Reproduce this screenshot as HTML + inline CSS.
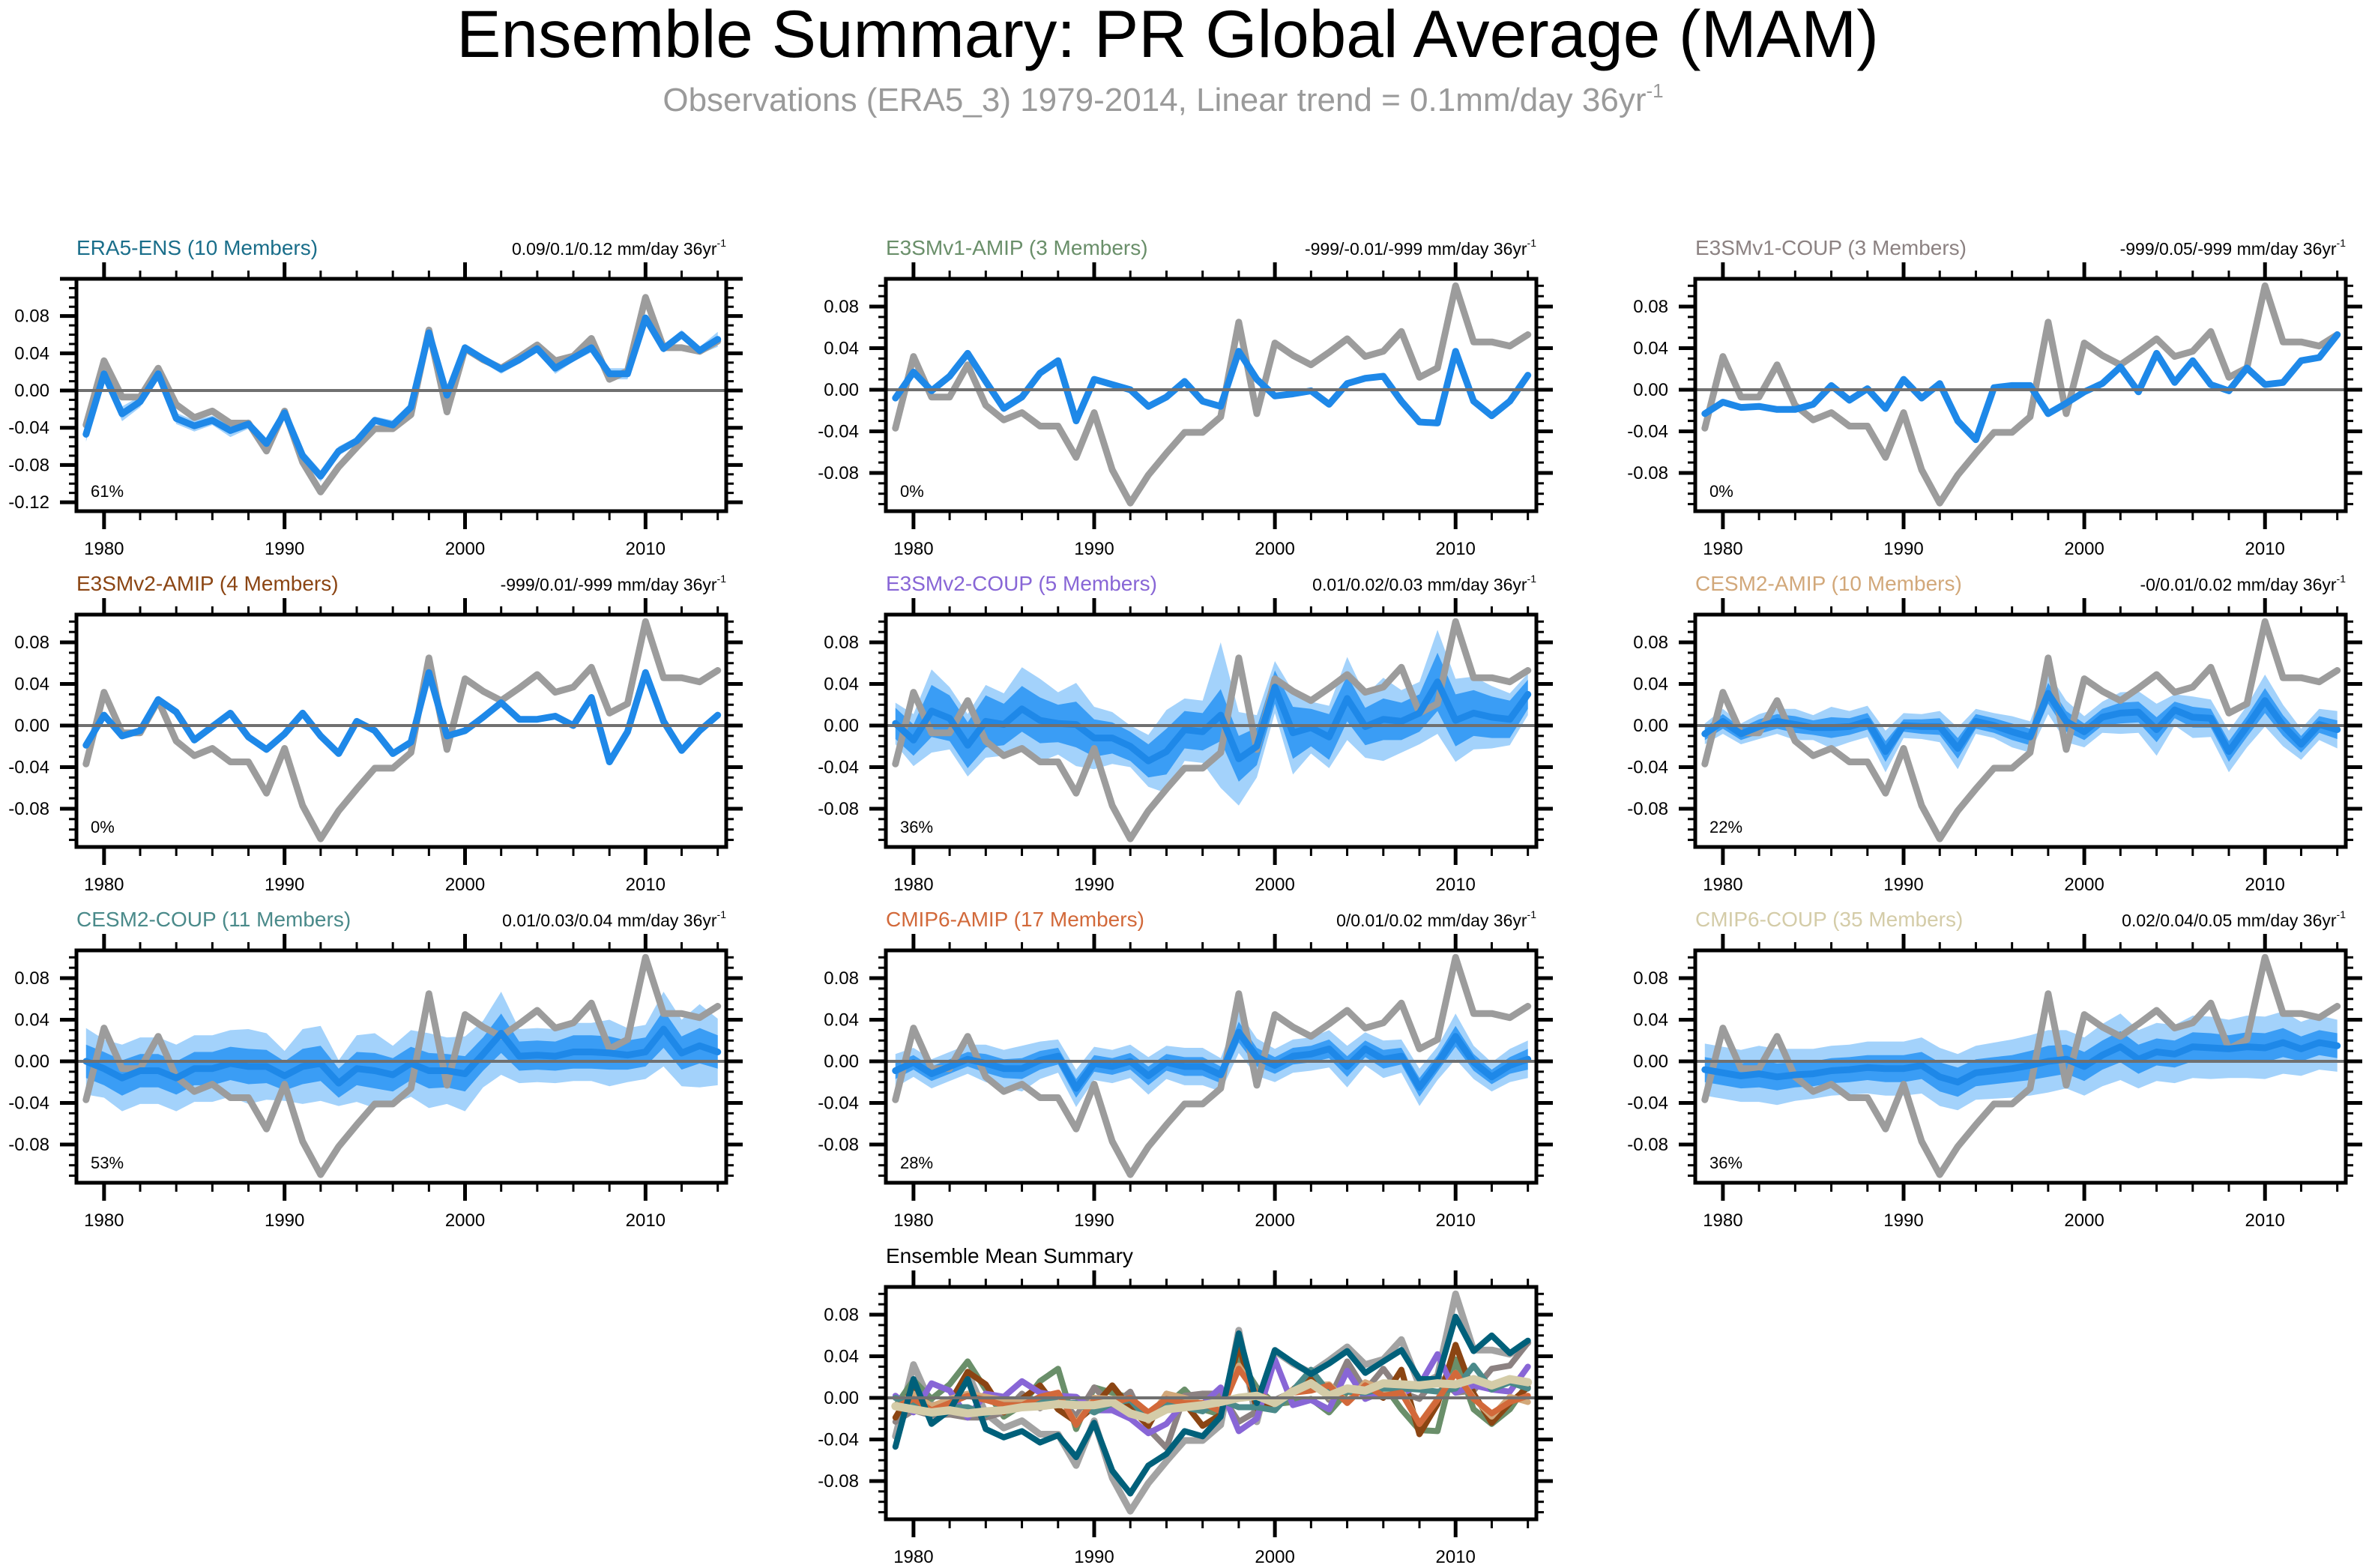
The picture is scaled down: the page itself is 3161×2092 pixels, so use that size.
<!DOCTYPE html>
<html><head><meta charset="utf-8"><title>Ensemble Summary: PR Global Average (MAM)</title>
<style>
html,body{margin:0;padding:0;background:#fff;}
svg{display:block;font-family:"Liberation Sans",Arial,sans-serif;}
</style></head>
<body>
<svg id="chart" xmlns="http://www.w3.org/2000/svg" width="3161" height="2092" viewBox="0 0 3161 2092">
<rect x="0" y="0" width="3161" height="2092" fill="#fff"/>
<text x="1558" y="76" font-size="89" text-anchor="middle" fill="#000">Ensemble Summary: PR Global Average (MAM)</text>
<text x="1552" y="148" font-size="44" text-anchor="middle" fill="#9a9a9a">Observations (ERA5_3) 1979-2014, Linear trend = 0.1mm/day 36yr<tspan font-size="26" dy="-18">-1</tspan></text>
<g id="panels"></g>
</svg>
<script>
const years=[1979,1980,1981,1982,1983,1984,1985,1986,1987,1988,1989,1990,1991,1992,1993,1994,1995,1996,1997,1998,1999,2000,2001,2002,2003,2004,2005,2006,2007,2008,2009,2010,2011,2012,2013,2014];
const obs=[-0.037,0.032,-0.007,-0.007,0.024,-0.015,-0.029,-0.022,-0.035,-0.035,-0.065,-0.022,-0.077,-0.109,-0.082,-0.061,-0.041,-0.041,-0.026,0.065,-0.023,0.045,0.033,0.024,0.036,0.049,0.032,0.037,0.056,0.012,0.021,0.100,0.046,0.046,0.042,0.053];
const meanERA5=[-0.047,0.018,-0.025,-0.012,0.018,-0.030,-0.038,-0.032,-0.043,-0.036,-0.057,-0.024,-0.070,-0.092,-0.065,-0.054,-0.032,-0.037,-0.018,0.062,-0.005,0.046,0.034,0.023,0.033,0.045,0.024,0.035,0.046,0.018,0.018,0.078,0.045,0.060,0.043,0.055];
const outerERA5=[0.008,0.005,0.008,0.006,0.005,0.006,0.006,0.005,0.007,0.005,0.006,0.004,0.006,0.006,0.005,0.004,0.004,0.005,0.004,0.004,0.004,0.004,0.004,0.005,0.004,0.004,0.006,0.004,0.005,0.006,0.006,0.004,0.004,0.005,0.004,0.008];
const meanE3v1A=[-0.008,0.017,-0.001,0.013,0.035,0.008,-0.018,-0.007,0.016,0.028,-0.030,0.010,0.005,0.000,-0.016,-0.007,0.008,-0.011,-0.016,0.037,0.010,-0.006,-0.004,-0.001,-0.014,0.006,0.011,0.013,-0.011,-0.031,-0.032,0.037,-0.011,-0.025,-0.011,0.014];
const meanE3v1C=[-0.023,-0.012,-0.017,-0.016,-0.019,-0.019,-0.014,0.004,-0.010,0.001,-0.018,0.010,-0.008,0.006,-0.030,-0.048,0.002,0.004,0.004,-0.023,-0.013,-0.002,0.006,0.022,-0.002,0.035,0.007,0.028,0.005,-0.001,0.021,0.005,0.007,0.028,0.031,0.053];
const meanE3v2A=[-0.019,0.010,-0.010,-0.005,0.025,0.013,-0.014,-0.001,0.012,-0.011,-0.023,-0.008,0.012,-0.010,-0.027,0.004,-0.005,-0.027,-0.016,0.051,-0.010,-0.005,0.008,0.022,0.006,0.006,0.009,0.000,0.027,-0.035,-0.006,0.051,0.004,-0.024,-0.005,0.010];
const meanE3v2C=[0.002,-0.014,0.014,0.007,-0.019,0.004,0.001,0.016,0.005,0.002,0.001,-0.012,-0.012,-0.020,-0.034,-0.025,-0.004,-0.006,0.010,-0.032,-0.020,0.037,-0.007,-0.002,-0.011,0.026,-0.001,0.006,0.004,0.012,0.042,0.005,0.012,0.008,0.006,0.030];
const outerE3v2C=[0.020,0.025,0.040,0.030,0.030,0.035,0.030,0.040,0.040,0.030,0.040,0.030,0.025,0.020,0.025,0.040,0.030,0.030,0.070,0.045,0.030,0.025,0.040,0.025,0.030,0.040,0.030,0.040,0.030,0.030,0.050,0.040,0.035,0.030,0.025,0.020];
const innerE3v2C=[0.015,0.015,0.025,0.022,0.022,0.025,0.020,0.022,0.022,0.018,0.022,0.018,0.015,0.014,0.016,0.022,0.018,0.018,0.025,0.022,0.018,0.016,0.025,0.018,0.022,0.022,0.018,0.020,0.018,0.018,0.028,0.025,0.022,0.020,0.018,0.014];
const meanCESA=[-0.008,0.004,-0.008,-0.001,0.004,0.001,-0.002,-0.002,-0.001,0.004,-0.025,0.000,-0.001,-0.001,-0.022,0.004,0.000,-0.006,-0.011,0.031,0.004,-0.006,0.008,0.012,0.013,-0.004,0.015,0.008,0.007,-0.025,-0.001,0.024,0.000,-0.018,0.001,-0.004];
const outerCESA=[0.010,0.012,0.010,0.012,0.012,0.015,0.012,0.020,0.015,0.015,0.020,0.012,0.012,0.015,0.020,0.012,0.012,0.015,0.015,0.020,0.020,0.015,0.015,0.020,0.020,0.025,0.015,0.020,0.018,0.020,0.020,0.025,0.020,0.015,0.015,0.018];
const innerCESA=[0.006,0.007,0.006,0.007,0.007,0.008,0.007,0.010,0.008,0.008,0.010,0.006,0.007,0.008,0.010,0.007,0.007,0.008,0.008,0.010,0.010,0.008,0.008,0.010,0.010,0.012,0.008,0.010,0.009,0.010,0.010,0.012,0.010,0.008,0.008,0.009];
const meanCESC=[0.000,-0.007,-0.016,-0.009,-0.009,-0.016,-0.007,-0.007,-0.002,-0.005,-0.005,-0.014,-0.005,-0.002,-0.021,-0.007,-0.009,-0.013,-0.002,-0.009,-0.009,-0.012,0.007,0.027,0.005,0.006,0.005,0.009,0.009,0.008,0.006,0.009,0.031,0.008,0.015,0.009];
const outerCESC=[0.032,0.028,0.032,0.032,0.032,0.032,0.032,0.032,0.032,0.036,0.032,0.024,0.036,0.036,0.022,0.032,0.036,0.028,0.032,0.036,0.032,0.036,0.032,0.040,0.026,0.026,0.026,0.028,0.028,0.032,0.026,0.026,0.036,0.032,0.040,0.032];
const innerCESC=[0.016,0.016,0.017,0.016,0.016,0.016,0.016,0.016,0.016,0.017,0.016,0.014,0.017,0.017,0.014,0.016,0.017,0.016,0.016,0.017,0.016,0.017,0.016,0.019,0.014,0.014,0.014,0.016,0.016,0.016,0.014,0.014,0.018,0.016,0.017,0.016];
const meanCMA=[-0.009,-0.001,-0.012,-0.005,0.002,-0.002,-0.007,-0.007,0.001,0.005,-0.026,-0.002,-0.005,0.000,-0.014,-0.001,-0.005,-0.005,-0.013,0.028,0.004,-0.004,0.005,0.007,0.012,-0.005,0.012,0.002,0.005,-0.025,-0.002,0.024,-0.001,-0.015,-0.004,0.002];
const outerCMA=[0.016,0.014,0.014,0.014,0.014,0.018,0.018,0.022,0.018,0.016,0.018,0.016,0.016,0.016,0.018,0.016,0.018,0.018,0.016,0.020,0.018,0.016,0.016,0.016,0.018,0.020,0.016,0.018,0.016,0.018,0.016,0.022,0.016,0.014,0.016,0.018];
const innerCMA=[0.008,0.007,0.007,0.007,0.007,0.009,0.009,0.010,0.009,0.008,0.009,0.008,0.008,0.008,0.009,0.008,0.009,0.009,0.008,0.010,0.009,0.008,0.008,0.008,0.009,0.010,0.008,0.009,0.008,0.009,0.008,0.010,0.008,0.007,0.008,0.010];
const meanCMC=[-0.008,-0.011,-0.014,-0.012,-0.015,-0.013,-0.012,-0.009,-0.008,-0.006,-0.007,-0.007,-0.004,-0.015,-0.020,-0.011,-0.009,-0.007,-0.004,0.000,0.002,-0.005,0.006,0.014,0.002,0.009,0.007,0.014,0.013,0.012,0.014,0.013,0.018,0.012,0.018,0.015];
const outerCMC=[0.025,0.025,0.025,0.027,0.027,0.025,0.024,0.024,0.024,0.025,0.026,0.026,0.027,0.028,0.027,0.026,0.027,0.028,0.029,0.030,0.028,0.028,0.030,0.032,0.028,0.028,0.028,0.030,0.030,0.028,0.030,0.030,0.030,0.026,0.026,0.025];
const innerCMC=[0.012,0.012,0.012,0.013,0.013,0.012,0.012,0.012,0.012,0.012,0.013,0.013,0.013,0.014,0.014,0.013,0.013,0.013,0.014,0.015,0.014,0.014,0.014,0.015,0.014,0.013,0.013,0.014,0.014,0.013,0.014,0.014,0.014,0.012,0.012,0.012];
const panelNames=["ERA5-ENS (10 Members)","E3SMv1-AMIP (3 Members)","E3SMv1-COUP (3 Members)","E3SMv2-AMIP (4 Members)","E3SMv2-COUP (5 Members)","CESM2-AMIP (10 Members)","CESM2-COUP (11 Members)","CMIP6-AMIP (17 Members)","CMIP6-COUP (35 Members)"];
const trendLabels=["0.09/0.1/0.12 mm/day 36yr","-999/-0.01/-999 mm/day 36yr","-999/0.05/-999 mm/day 36yr","-999/0.01/-999 mm/day 36yr","0.01/0.02/0.03 mm/day 36yr","-0/0.01/0.02 mm/day 36yr","0.01/0.03/0.04 mm/day 36yr","0/0.01/0.02 mm/day 36yr","0.02/0.04/0.05 mm/day 36yr"];
const pctLabels=["61%","0%","0%","0%","36%","22%","53%","28%","36%"];
const titleColors=["#1a6e8a","#6a8f6a","#8c8282","#8b4513","#8866d6","#d2a87a","#4a8a8a","#d2693a","#d4cca8"];
const lineColors=["#00607a","#6a8f6a","#8c8282","#8b4513","#8866d6","#d2a87a","#4a8a8a","#d2693a","#d4cca8"];
const means=[meanERA5,meanE3v1A,meanE3v1C,meanE3v2A,meanE3v2C,meanCESA,meanCESC,meanCMA,meanCMC];
const outers=[outerERA5,null,null,null,outerE3v2C,outerCESA,outerCESC,outerCMA,outerCMC];
const inners=[null,null,null,null,innerE3v2C,innerCESA,innerCESC,innerCMA,innerCMC];
const yTicksFirst=[0.08,0.04,0,-0.04,-0.08,-0.12];
const yTicks=[0.08,0.04,0,-0.04,-0.08];
const xTickLabels=[1980,1990,2000,2010];

const NS="http://www.w3.org/2000/svg";
const root=document.getElementById("panels");
const colX=[102,1182,2262], colW=[867,868,868], rowY=[372,820,1268,1717], H=310;
const XMIN=1978.47, XMAX=2014.47;
function mk(tag,attrs,parent){const e=document.createElementNS(NS,tag);for(const k in attrs)e.setAttribute(k,attrs[k]);(parent||root).appendChild(e);return e;}
function fmt(v){return (v<0?"-":"")+Math.abs(v).toFixed(2);}

function drawPanel(idx,col,row,opts){
  const L=colX[col],T=rowY[row],W=colW[col];
  const yTop=opts.first?0.12:0.1067, yBot=opts.first?-0.1296:-0.1168;
  const xs=yr=>L+(yr-XMIN)/(XMAX-XMIN)*W;
  const ys=v=>T+(yTop-v)/(yTop-yBot)*H;
  const g=mk("g",{});
  
  
  const cid="clip"+idx;
  const cp=mk("clipPath",{id:cid},g);mk("rect",{x:L,y:T,width:W,height:H},cp);
  const plot=mk("g",{"clip-path":"url(#"+cid+")"},g);
  
  
  function band(mean,half,fill,nm){
    let up=years.map((yr,i)=>xs(yr).toFixed(1)+","+ys(mean[i]+half[i]).toFixed(1));
    let lo=years.map((yr,i)=>xs(yr).toFixed(1)+","+ys(mean[i]-half[i]).toFixed(1)).reverse();
    const p=mk("polygon",{points:up.concat(lo).join(" "),fill:fill},plot);
    
    
  }
  function line(vals,color,w,nm){
    const pts=years.map((yr,i)=>xs(yr).toFixed(1)+","+ys(vals[i]).toFixed(1)).join(" ");
    const p=mk("polyline",{points:pts,fill:"none",stroke:color,"stroke-width":w,"stroke-linejoin":"round","stroke-linecap":"round"},plot);
    
    
  }
  if(opts.summary){
    line(obs,"#a3a3a3",9,"observations-line");
    const order=[1,2,3,4,5,6,7,0,8];
    order.forEach(k=>{line(means[k],lineColors[k],k===8?11:8,"ensemble-mean-"+panelNames[k].split(" ")[0].toLowerCase());});
  } else {
    if(outers[idx]) band(means[idx],outers[idx],"#a3d2fb","spread-band-outer");
    if(inners[idx]) band(means[idx],inners[idx],"#3a9df5","spread-band-inner");
    line(obs,"#9c9c9c",9,"observations-line");
    line(means[idx],"#1e88e8",9,"ensemble-mean-line");
  }
  const z=mk("line",{x1:L,x2:L+W,y1:ys(0),y2:ys(0),stroke:"#707070","stroke-width":4},plot);
  
  
  const box=mk("rect",{x:L,y:T,width:W,height:H,fill:"none",stroke:"#000","stroke-width":5},g);
  
  
  const tg=mk("g",{stroke:"#000"},g);
  
  
  for(let yr=1980;yr<=2014;yr+=2){
    const maj=yr%10===0, x=xs(yr);
    mk("line",{x1:x,x2:x,y1:T,y2:T-(maj?22:11),"stroke-width":maj?5:3},tg);
    mk("line",{x1:x,x2:x,y1:T+H,y2:T+H+(maj?24:12),"stroke-width":maj?5:3},tg);
  }
  for(let k=-12;k<=12;k++){
    const v=k/100; if(v>yTop||v<yBot) continue;
    const maj=k%4===0, y=ys(v);
    mk("line",{x1:L,x2:L-(maj?22:10),y1:y,y2:y,"stroke-width":maj?5:3},tg);
    mk("line",{x1:L+W,x2:L+W+(maj?22:10),y1:y,y2:y,"stroke-width":maj?5:3},tg);
  }
  (opts.first?yTicksFirst:yTicks).forEach(v=>{
    const t=mk("text",{x:L-36,y:ys(v)+8,"font-size":24,"text-anchor":"end",fill:"#000"},g);
    t.textContent=fmt(v);
    
    
  });
  xTickLabels.forEach(yr=>{
    const t=mk("text",{x:xs(yr),y:T+H+58,"font-size":24,"text-anchor":"middle",fill:"#000"},g);
    t.textContent=yr;
    
    
  });
  const tt=mk("text",{x:L,y:T-32,"font-size":28,fill:opts.summary?"#000":titleColors[idx]},g);
  tt.textContent=opts.summary?"Ensemble Mean Summary":panelNames[idx];
  
  
  if(!opts.summary){
    const tr=mk("text",{x:L+W,y:T-32,"font-size":23,"text-anchor":"end",fill:"#000"},g);
    tr.textContent=trendLabels[idx];
    const sup=mk("tspan",{"font-size":14,dy:-11},tr);sup.textContent="-1";
    
    
    const pc=mk("text",{x:L+19,y:T+H-19,"font-size":22,fill:"#000"},g);
    pc.textContent=pctLabels[idx];
    
    
  }
}
for(let i=0;i<9;i++){drawPanel(i,i%3,Math.floor(i/3),{first:i===0,name:"panel-"+panelNames[i].split(" ")[0].toLowerCase()});}
drawPanel(9,1,3,{summary:true,name:"panel-ensemble-mean-summary"});
</script>
</body></html>
